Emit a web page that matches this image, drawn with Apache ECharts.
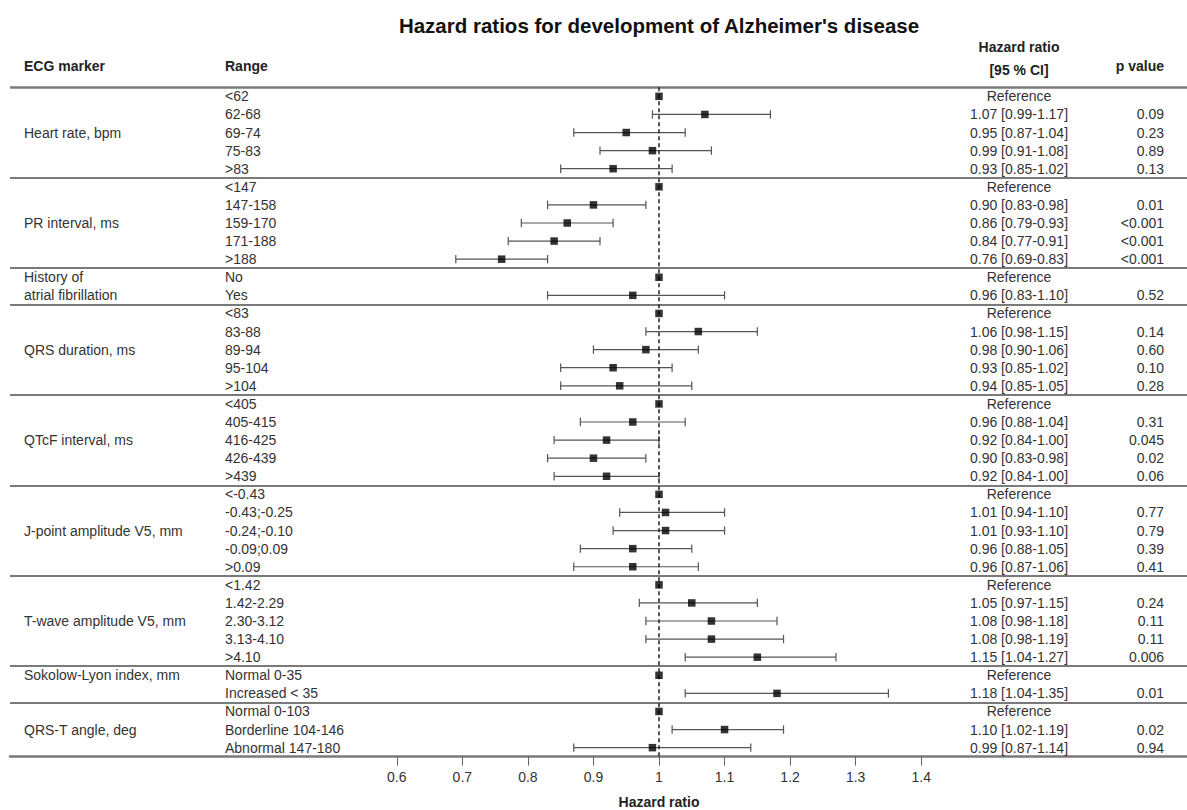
<!DOCTYPE html>
<html>
<head>
<meta charset="utf-8">
<script src="https://cdn.jsdelivr.net/npm/echarts@6/dist/echarts.min.js"></script>
<style>html,body{margin:0;padding:0;background:#fff;}#chart{width:1187px;height:810px;}</style>
</head>
<body>
<div id="chart"></div>
<script>
// ---------- data ----------
const markers = ['Heart rate, bpm', 'PR interval, ms', 'History of\natrial fibrillation', 'QRS duration, ms',
  'QTcF interval, ms', 'J-point amplitude V5, mm', 'T-wave amplitude V5, mm', 'Sokolow-Lyon index, mm', 'QRS-T angle, deg'];
const ranges = [
  ['<62', '62-68', '69-74', '75-83', '>83'],
  ['<147', '147-158', '159-170', '171-188', '>188'],
  ['No', 'Yes'],
  ['<83', '83-88', '89-94', '95-104', '>104'],
  ['<405', '405-415', '416-425', '426-439', '>439'],
  ['<-0.43', '-0.43;-0.25', '-0.24;-0.10', '-0.09;0.09', '>0.09'],
  ['<1.42', '1.42-2.29', '2.30-3.12', '3.13-4.10', '>4.10'],
  ['Normal 0-35', 'Increased < 35'],
  ['Normal 0-103', 'Borderline 104-146', 'Abnormal 147-180']
];
const hr = [1, 1.07, 0.95, 0.99, 0.93,  1, 0.90, 0.86, 0.84, 0.76,  1, 0.96,  1, 1.06, 0.98, 0.93, 0.94,
  1, 0.96, 0.92, 0.90, 0.92,  1, 1.01, 1.01, 0.96, 0.96,  1, 1.05, 1.08, 1.08, 1.15,  1, 1.18,  1, 1.10, 0.99];
const lo = [null, 0.99, 0.87, 0.91, 0.85,  null, 0.83, 0.79, 0.77, 0.69,  null, 0.83,  null, 0.98, 0.90, 0.85, 0.85,
  null, 0.88, 0.84, 0.83, 0.84,  null, 0.94, 0.93, 0.88, 0.87,  null, 0.97, 0.98, 0.98, 1.04,  null, 1.04,  null, 1.02, 0.87];
const hi = [null, 1.17, 1.04, 1.08, 1.02,  null, 0.98, 0.93, 0.91, 0.83,  null, 1.10,  null, 1.15, 1.06, 1.02, 1.05,
  null, 1.04, 1.00, 0.98, 1.00,  null, 1.10, 1.10, 1.05, 1.06,  null, 1.15, 1.18, 1.19, 1.27,  null, 1.35,  null, 1.19, 1.14];
const pValues = ['', '0.09', '0.23', '0.89', '0.13',  '', '0.01', '<0.001', '<0.001', '<0.001',  '', '0.52',
  '', '0.14', '0.60', '0.10', '0.28',  '', '0.31', '0.045', '0.02', '0.06',  '', '0.77', '0.79', '0.39', '0.41',
  '', '0.24', '0.11', '0.11', '0.006',  '', '0.01',  '', '0.02', '0.94'];
const xTicks = [0.6, 0.7, 0.8, 0.9, 1, 1.1, 1.2, 1.3, 1.4];
const titleText = "Hazard ratios for development of Alzheimer's disease";

// ---------- layout ----------
const FONT = "'Liberation Sans', Arial, Helvetica, sans-serif";
const TXT = '#333';
const gridLeft = 10, gridTop = 87.3, gridBottom = 53.3;
const x1px = 659, pxPerUnit = 655.5;
const xMin = 1 - (x1px - gridLeft) / pxPerUnit;
const xMax = xMin + (1187 - gridLeft) / pxPerUnit;
const colMarker = 24, colRange = 225, colHR = 1019, colP = 1164;

// flatten rows
const rows = [];
const groupStart = [];
ranges.forEach((g, gi) => { groupStart.push(rows.length); g.forEach(r => rows.push({ range: r, group: gi })); });
const nRows = rows.length;
const separators = groupStart.map(s => s - 0.5);

const markerData = markers.map((m, gi) => {
  const n = ranges[gi].length;
  const pos = m.indexOf('\n') >= 0 ? groupStart[gi] + (n - 1) / 2 : groupStart[gi] + Math.floor((n - 1) / 2);
  return [1, pos, m];
});

const chart = echarts.init(document.getElementById('chart'), null, { renderer: 'svg' });

function txt(x, y, text, align, opts) {
  return {
    type: 'text',
    style: Object.assign({
      text: text, x: x, y: y,
      textAlign: align, align: align,
      textVerticalAlign: 'middle', verticalAlign: 'middle',
      fontSize: 14, fontFamily: FONT, fill: TXT, lineHeight: 18.1
    }, opts || {})
  };
}
function gtxt(x, y, text, align, size, color) {
  return { type: 'text', x: x, y: y, style: { text: text, textAlign: align, align: align,
    textVerticalAlign: 'middle', verticalAlign: 'middle', fontSize: size, fontWeight: 'bold',
    fontFamily: FONT, fill: color } };
}

chart.setOption({
  animation: false,
  backgroundColor: '#fff',
  grid: { left: gridLeft, right: 0, top: gridTop, bottom: gridBottom, containLabel: false },
  xAxis: {
    type: 'value', min: xMin, max: xMax, position: 'bottom',
    splitLine: { show: false },
    axisLine: { show: true, onZero: false, lineStyle: { color: '#7a7a7a', width: 2.5 } },
    axisTick: { show: true, customValues: xTicks, length: 9, lineStyle: { color: '#666', width: 1 } },
    axisLabel: { show: true, customValues: xTicks, fontSize: 14, fontFamily: FONT, color: TXT, margin: 13,
      formatter: v => String(Math.round(v * 10) / 10) }
  },
  yAxis: { type: 'value', inverse: true, min: -0.5, max: nRows - 0.5, show: false },
  graphic: [
    gtxt(x1px, 25, titleText, 'center', 20.5, '#111'),
    gtxt(colMarker, 66, 'ECG marker', 'left', 14, '#222'),
    gtxt(colRange, 66, 'Range', 'left', 14, '#222'),
    gtxt(colHR, 47, 'Hazard ratio', 'center', 14, '#222'),
    gtxt(colHR, 70, '[95 % CI]', 'center', 14, '#222'),
    gtxt(colP, 66, 'p value', 'right', 14, '#222'),
    gtxt(x1px, 802, 'Hazard ratio', 'center', 14, '#222')
  ],
  series: [
    {
      // separators and reference line
      type: 'line', data: [], silent: true,
      markLine: {
        silent: true, symbol: 'none', animation: false, label: { show: false },
        data: separators.map(s => ({ yAxis: s, lineStyle: { color: '#7a7a7a', width: s < 0 ? 2.5 : 1.8, type: 'solid' } }))
          .concat([{ xAxis: 1, lineStyle: { color: '#222', width: 1.5, type: [4, 3] } }])
      }
    },
    {
      // confidence intervals
      type: 'custom', clip: false, silent: true,
      data: hr.map((v, i) => [lo[i], hi[i], i]).filter(d => d[0] != null),
      encode: { x: [0, 1], y: 2 },
      renderItem: (params, api) => {
        const a = api.coord([api.value(0), api.value(2)]);
        const b = api.coord([api.value(1), api.value(2)]);
        const st = { stroke: '#555', lineWidth: 1.2 };
        return { type: 'group', children: [
          { type: 'line', shape: { x1: a[0], y1: a[1], x2: b[0], y2: b[1] }, style: st },
          { type: 'line', shape: { x1: a[0], y1: a[1] - 4.2, x2: a[0], y2: a[1] + 4.2 }, style: st },
          { type: 'line', shape: { x1: b[0], y1: b[1] - 4.2, x2: b[0], y2: b[1] + 4.2 }, style: st }
        ] };
      }
    },
    {
      // point estimates
      type: 'scatter', silent: true, z: 5,
      symbol: 'rect', symbolSize: 7.5,
      itemStyle: { color: '#000' },
      data: hr.map((v, i) => [v, i])
    },
    {
      // table texts per row
      type: 'custom', clip: false, silent: true,
      data: rows.map((r, i) => [1, i]),
      renderItem: (params, api) => {
        const i = params.dataIndex;
        const y = api.coord([1, i])[1];
        const hrText = lo[i] == null ? 'Reference'
          : hr[i].toFixed(2) + ' [' + lo[i].toFixed(2) + '-' + hi[i].toFixed(2) + ']';
        return { type: 'group', children: [
          txt(colRange, y, rows[i].range, 'left'),
          txt(colHR, y, hrText, 'center'),
          txt(colP, y, pValues[i], 'right')
        ] };
      }
    },
    {
      // marker labels
      type: 'custom', clip: false, silent: true,
      data: markerData,
      renderItem: (params, api) => {
        const y = api.coord([1, markerData[params.dataIndex][1]])[1];
        return txt(colMarker, y, markerData[params.dataIndex][2], 'left');
      }
    }
  ]
});
</script>
</body>
</html>
